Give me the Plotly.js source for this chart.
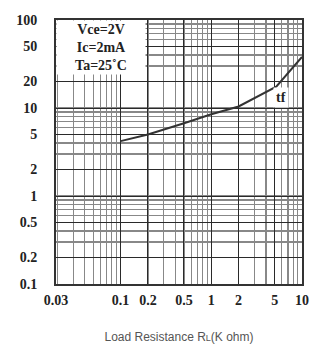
<!DOCTYPE html>
<html>
<head>
<meta charset="utf-8">
<script src="https://cdn.plot.ly/plotly-3.0.1.min.js"></script>
<style>html,body{margin:0;padding:0;background:#fff;}#chart{width:316px;height:344px;}</style>
</head>
<body>
<div id="chart"></div>
<script>
// Load resistance (K ohm) and fall time tf
const loadResistance = [0.1, 0.2, 0.5, 1, 2, 5.2, 10];
const fallTime = [4.2, 5.0, 6.7, 8.5, 10.4, 17.5, 38];
const xTickVals = [0.0194, 0.1, 0.2, 0.5, 1, 2, 5, 10];
const xTickText = ['0.03', '0.1', '0.2', '0.5', '1', '2', '5', '10'];
const yTickVals = [100, 50, 20, 10, 5, 2, 1, 0.5, 0.2, 0.1];
const yTickText = ['100', '50', '20', '10', '5', '2', '1', '0.5', '0.2', '0.1'];
const conditions = ['Vce=2V', 'Ic=2mA', 'Ta=25˚C'];
const curveLabel = 'tf';

const tickFont = {family: 'Liberation Serif', size: 14, color: '#222', weight: 'bold'};

const trace = {
  x: loadResistance, y: fallTime, type: 'scatter', mode: 'lines',
  line: {color: '#333', width: 2}, hoverinfo: 'skip', showlegend: false
};

const layout = {
  width: 316, height: 344,
  margin: {l: 56, r: 14, t: 20, b: 60},
  paper_bgcolor: '#fff', plot_bgcolor: '#fff',
  xaxis: {
    type: 'log', range: [Math.log10(0.0194), 1.0],
    tickvals: xTickVals, ticktext: xTickText,
    tickfont: tickFont, ticks: '', ticklabelstandoff: 2,
    showgrid: true, gridcolor: '#2a2a2a', gridwidth: 1,
    minor: {dtick: 'D1', showgrid: true, gridcolor: '#888', gridwidth: 1.2},
    showline: true, linecolor: '#333', linewidth: 2, mirror: true,
    zeroline: false,
    title: {text: 'Load Resistance R<span style="font-size:9px">L</span>(K ohm)',
            font: {family: 'Liberation Sans', size: 12, color: '#555'}, standoff: 28}
  },
  yaxis: {
    type: 'log', range: [-1, 2],
    tickvals: yTickVals, ticktext: yTickText,
    tickfont: tickFont, ticks: '', ticklabelstandoff: 14,
    showgrid: true, gridcolor: '#2a2a2a', gridwidth: 1,
    minor: {dtick: 'D1', showgrid: true, gridcolor: '#888', gridwidth: 1.2},
    showline: true, linecolor: '#333', linewidth: 2, mirror: true,
    zeroline: false
  },
  annotations: [
    {xref: 'paper', yref: 'paper', x: 0, y: 1, xanchor: 'left', yanchor: 'top',
     text: conditions.join('<br>'), showarrow: false, align: 'center',
     width: 88, height: 53, bgcolor: '#fff', borderpad: 0,
     font: {family: 'Liberation Serif', size: 14, color: '#222', weight: 'bold'}},
    {x: Math.log10(5.85), y: Math.log10(13.3), xref: 'x', yref: 'y',
     text: curveLabel, showarrow: false, bgcolor: '#fff', borderpad: 2,
     font: {family: 'Liberation Serif', size: 14, color: '#222', weight: 'bold'}}
  ]
};

Plotly.newPlot('chart', [trace], layout, {staticPlot: true, displayModeBar: false});
</script>
</body>
</html>
